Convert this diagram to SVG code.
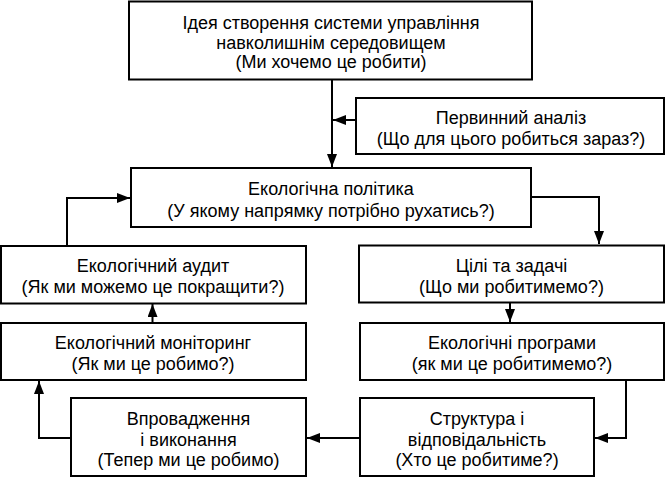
<svg xmlns="http://www.w3.org/2000/svg" width="666" height="478" viewBox="0 0 666 478">
<defs>
<style>
.box{fill:#fff;stroke:#000;stroke-width:2}
.t{font-family:"Liberation Sans",Arial,sans-serif;font-size:18px;fill:#000;text-anchor:middle}
.c{fill:none;stroke:#000;stroke-width:2}
</style>
<marker id="ah" viewBox="0 0 13 10" refX="13" refY="5" markerWidth="13" markerHeight="10" markerUnits="userSpaceOnUse" orient="auto">
<path d="M0,0 L13,5 L0,10 Z" fill="#000"/>
</marker>
</defs>
<rect width="666" height="478" fill="#fff"/>
<g id="connectors">
<path class="c" d="M332,80 V167" marker-end="url(#ah)"/>
<path class="c" d="M356,120 H333" marker-end="url(#ah)"/>
<path class="c" d="M531,197 H599 V244" marker-end="url(#ah)"/>
<path class="c" d="M510,302 V322" marker-end="url(#ah)"/>
<path class="c" d="M626,380 V438 H595" marker-end="url(#ah)"/>
<path class="c" d="M360,438 H307" marker-end="url(#ah)"/>
<path class="c" d="M71,438 H39 V381" marker-end="url(#ah)"/>
<path class="c" d="M152.5,323 V304" marker-end="url(#ah)"/>
<path class="c" d="M67,246 V198 H130" marker-end="url(#ah)"/>
</g>
<g id="idea">
<rect class="box" x="129" y="1.5" width="403" height="78"/>
<text class="t" x="331" y="29">Ідея створення системи управління</text>
<text class="t" x="331" y="48.5">навколишнім середовищем</text>
<text class="t" x="331" y="68">(Ми хочемо це робити)</text>
</g>
<g id="analysis">
<rect class="box" x="356" y="98" width="308" height="56"/>
<text class="t" x="511" y="124">Первинний аналіз</text>
<text class="t" x="511" y="144.5">(Що для цього робиться зараз?)</text>
</g>
<g id="policy">
<rect class="box" x="131" y="168" width="400" height="59"/>
<text class="t" x="331" y="195">Екологічна політика</text>
<text class="t" x="331" y="216.5">(У якому напрямку потрібно рухатись?)</text>
</g>
<g id="audit">
<rect class="box" x="1" y="246" width="305" height="57.5"/>
<text class="t" x="153" y="271.5">Екологічний аудит</text>
<text class="t" x="153" y="293">(Як ми можемо це покращити?)</text>
</g>
<g id="goals">
<rect class="box" x="359" y="245.5" width="305" height="57"/>
<text class="t" x="511.5" y="271.5">Цілі та задачі</text>
<text class="t" x="511.5" y="293">(Що ми робитимемо?)</text>
</g>
<g id="monitoring">
<rect class="box" x="1" y="323" width="305" height="57"/>
<text class="t" x="153" y="348.5">Екологічний моніторинг</text>
<text class="t" x="153" y="370">(Як ми це робимо?)</text>
</g>
<g id="programs">
<rect class="box" x="360" y="323" width="304" height="57"/>
<text class="t" x="512" y="348.5">Екологічні програми</text>
<text class="t" x="512" y="370">(як ми це робитимемо?)</text>
</g>
<g id="implementation">
<rect class="box" x="71" y="398" width="235" height="78"/>
<text class="t" x="188.5" y="425">Впровадження</text>
<text class="t" x="188.5" y="445.5">і виконання</text>
<text class="t" x="188.5" y="466">(Тепер ми це робимо)</text>
</g>
<g id="structure">
<rect class="box" x="360" y="398" width="234" height="78"/>
<text class="t" x="477" y="425">Структура і</text>
<text class="t" x="477" y="445.5">відповідальність</text>
<text class="t" x="477" y="466">(Хто це робитиме?)</text>
</g>
</svg>
